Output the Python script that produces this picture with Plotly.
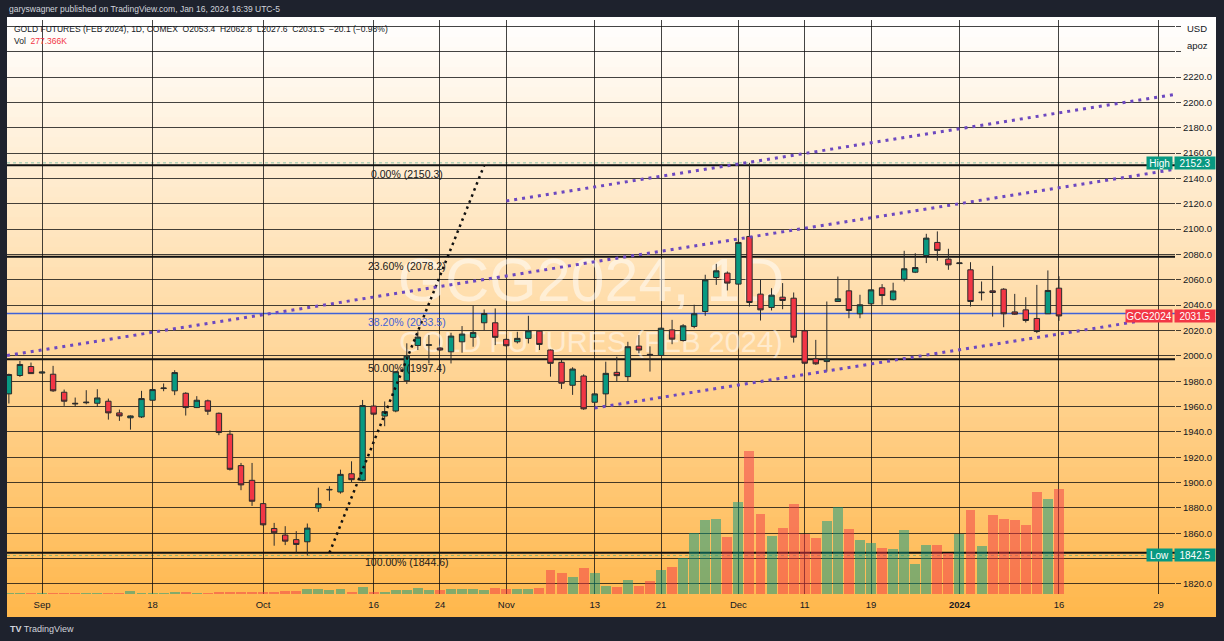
import numpy as np
import plotly.graph_objects as go

# ---------------- data ----------------
dates = [
    "2023-08-29", "2023-08-30", "2023-08-31", "2023-09-01",
    "2023-09-05", "2023-09-06", "2023-09-07", "2023-09-08",
    "2023-09-11", "2023-09-12", "2023-09-13", "2023-09-14", "2023-09-15",
    "2023-09-18", "2023-09-19", "2023-09-20", "2023-09-21", "2023-09-22",
    "2023-09-25", "2023-09-26", "2023-09-27", "2023-09-28", "2023-09-29",
    "2023-10-02", "2023-10-03", "2023-10-04", "2023-10-05", "2023-10-06",
    "2023-10-09", "2023-10-10", "2023-10-11", "2023-10-12", "2023-10-13",
    "2023-10-16", "2023-10-17", "2023-10-18", "2023-10-19", "2023-10-20",
    "2023-10-23", "2023-10-24", "2023-10-25", "2023-10-26", "2023-10-27",
    "2023-10-30", "2023-10-31", "2023-11-01", "2023-11-02", "2023-11-03",
    "2023-11-06", "2023-11-07", "2023-11-08", "2023-11-09", "2023-11-10",
    "2023-11-13", "2023-11-14", "2023-11-15", "2023-11-16", "2023-11-17",
    "2023-11-20", "2023-11-21", "2023-11-22", "2023-11-24",
    "2023-11-27", "2023-11-28", "2023-11-29", "2023-11-30", "2023-12-01",
    "2023-12-04", "2023-12-05", "2023-12-06", "2023-12-07", "2023-12-08",
    "2023-12-11", "2023-12-12", "2023-12-13", "2023-12-14", "2023-12-15",
    "2023-12-18", "2023-12-19", "2023-12-20", "2023-12-21", "2023-12-22",
    "2023-12-26", "2023-12-27", "2023-12-28", "2023-12-29",
    "2024-01-02", "2024-01-03", "2024-01-04", "2024-01-05",
    "2024-01-08", "2024-01-09", "2024-01-10", "2024-01-11", "2024-01-12",
    "2024-01-16",
]

opens = [1970.0, 1984.5, 1991.6, 1986.4, 1985.5, 1971.3, 1962.6, 1963.0, 1962.6, 1964.2,
         1955.0, 1951.1, 1951.8, 1965.0, 1974.2, 1972.4, 1970.5, 1959.2, 1964.5, 1954.7,
         1938.2, 1913.4, 1901.8, 1883.4, 1863.8, 1858.6, 1855.0, 1853.3, 1880.0, 1894.2,
         1892.6, 1907.0, 1901.8, 1960.4, 1952.5, 1956.5, 1980.4, 2008.2, 2008.3, 2006.2,
         2003.2, 2011.1, 2014.6, 2026.1, 2026.1, 2013.0, 2011.1, 2013.8, 2019.5, 2004.6,
         1994.9, 1976.8, 1984.1, 1963.4, 1970.0, 1987.0, 1983.6, 2007.7, 2001.2, 2000.3,
         2020.5, 2012.1, 2023.2, 2035.0, 2061.8, 2065.3, 2056.6, 2094.2, 2048.7, 2038.2,
         2046.3, 2045.5, 2019.7, 1997.6, 1995.5, 2042.9, 2051.3, 2033.2, 2041.1, 2053.7,
         2044.3, 2060.5, 2066.0, 2079.2, 2089.5, 2076.3, 2072.8, 2067.9, 2049.8, 2051.3,
         2052.6, 2034.7, 2036.3, 2029.5, 2033.2, 2053.4]

highs = [1986.0, 1996.0, 1994.7, 1987.6, 1992.1, 1973.4, 1967.1, 1972.9, 1973.7, 1966.3,
         1957.6, 1953.0, 1972.4, 1974.2, 1978.2, 1988.7, 1971.3, 1968.2, 1965.5, 1955.3,
         1941.3, 1915.5, 1915.5, 1883.9, 1868.2, 1865.6, 1861.7, 1867.7, 1896.0, 1897.1,
         1910.2, 1916.8, 1965.2, 1961.5, 1964.0, 1988.0, 2009.9, 2019.3, 2016.5, 2006.8,
         2018.2, 2023.5, 2039.5, 2036.6, 2037.4, 2013.8, 2019.0, 2031.6, 2019.8, 2005.0,
         1996.7, 1991.0, 1985.4, 1970.5, 1995.4, 1999.3, 2011.1, 2016.4, 2007.5, 2022.3,
         2028.4, 2025.0, 2040.3, 2064.0, 2072.6, 2066.6, 2092.1, 2152.3, 2060.0, 2053.4,
         2057.4, 2050.0, 2020.5, 2012.6, 2042.9, 2062.6, 2060.0, 2048.2, 2052.1, 2056.6,
         2057.7, 2082.9, 2081.0, 2096.3, 2098.2, 2084.5, 2073.9, 2073.9, 2058.7, 2071.0,
         2053.4, 2048.9, 2046.3, 2056.0, 2067.4, 2062.8]

lows = [1962.4, 1983.4, 1985.8, 1986.0, 1971.6, 1960.5, 1960.0, 1961.8, 1959.7, 1949.7,
        1948.7, 1941.8, 1951.0, 1964.5, 1972.1, 1969.0, 1952.9, 1958.8, 1953.4, 1937.4,
        1909.5, 1894.0, 1881.6, 1866.0, 1850.2, 1850.7, 1844.7, 1842.5, 1876.9, 1885.6,
        1891.3, 1900.5, 1901.0, 1953.0, 1944.5, 1955.5, 1977.8, 2004.6, 1994.0, 2004.0,
        1994.0, 2002.5, 2007.2, 2020.3, 2008.5, 2007.2, 2009.8, 2009.8, 2004.6, 1983.6,
        1973.9, 1969.2, 1957.4, 1960.0, 1960.0, 1979.7, 1979.7, 2002.0, 1987.6, 2000.0,
        2009.2, 2011.3, 2021.8, 2031.6, 2056.0, 2051.6, 2056.0, 2038.9, 2027.9, 2035.8,
        2036.8, 2010.5, 1993.4, 1992.9, 1987.6, 2042.9, 2029.7, 2029.7, 2040.3, 2040.3,
        2043.7, 2058.7, 2065.3, 2073.2, 2075.0, 2067.9, 2072.4, 2038.9, 2043.7, 2031.0,
        2022.6, 2032.4, 2026.3, 2017.9, 2033.2, 2027.6]

closes = [1985.3, 1993.2, 1986.0, 1987.2, 1972.4, 1964.2, 1962.2, 1963.4, 1966.8, 1955.0,
          1952.6, 1952.6, 1966.3, 1973.4, 1974.6, 1986.8, 1959.2, 1965.0, 1956.3, 1939.5,
          1910.5, 1898.2, 1885.3, 1866.7, 1860.4, 1853.8, 1851.2, 1864.1, 1883.4, 1894.6,
          1906.5, 1902.3, 1960.8, 1954.0, 1956.0, 1987.5, 2000.0, 2014.8, 2008.7, 2004.6,
          2015.6, 2017.2, 2018.5, 2033.4, 2014.6, 2008.0, 2013.8, 2019.8, 2009.0, 1994.1,
          1978.4, 1989.6, 1958.2, 1970.0, 1986.2, 1984.4, 2007.2, 2004.6, 2000.8, 2021.8,
          2013.2, 2023.7, 2033.2, 2060.0, 2067.1, 2057.4, 2089.5, 2042.1, 2036.3, 2047.9,
          2043.7, 2014.7, 1994.2, 1993.7, 1997.4, 2045.0, 2035.8, 2040.3, 2052.1, 2047.6,
          2051.2, 2068.7, 2069.7, 2092.9, 2083.2, 2071.8, 2073.3, 2042.9, 2050.2, 2050.0,
          2033.2, 2032.9, 2027.9, 2019.2, 2051.6, 2031.5]

volumes_k = [3.0, 2.5, 2.0, 1.5, 2.5, 2.0, 1.5, 2.0, 2.0, 3.0,
             2.5, 7.0, 3.0, 2.5, 2.0, 6.0, 6.0, 2.5, 3.5, 4.0,
             5.0, 5.5, 6.0, 6.0, 6.5, 7.0, 7.5, 12.5, 12.0, 11.5,
             12.5, 6.0, 18.5, 5.0, 4.0, 11.5, 11.5, 16.5, 10.5, 10.5,
             13.0, 13.0, 13.0, 9.5, 16.5, 12.0, 14.0, 14.0, 16.5, 63.4,
             54.6, 45.8, 67.8, 54.6, 21.1, 19.4, 37.0, 21.1, 35.2, 63.4,
             72.2, 94.2, 162.0, 195.5, 198.1, 151.4, 242.1, 378.6, 210.4, 153.2,
             174.3, 237.7, 157.6, 148.8, 192.8, 230.7, 171.7, 142.6, 133.8, 122.4,
             119.7, 169.9, 79.2, 128.6, 128.6, 107.4, 157.6, 221.9, 126.8, 208.7,
             199.0, 195.5, 183.1, 270.3, 250.9, 277.366]

tick_dates = ["2023-09-01", "2023-09-18", "2023-10-02", "2023-10-16", "2023-10-24",
              "2023-11-01", "2023-11-13", "2023-11-21", "2023-12-01", "2023-12-11",
              "2023-12-19", "2024-01-02", "2024-01-16", "2024-01-29"]
tick_labels = ["Sep", "18", "Oct", "16", "24", "Nov", "13", "21", "Dec", "11",
               "19", "<b>2024</b>", "16", "29"]

price_ticks = list(range(1800, 2261, 20))
hidden_price_labels = [1840, 2240, 2260]

# Fibonacci retracement drawing
fib_anchor_dates = ["2023-10-10", "2023-10-30"]
fib_anchor_prices = [1844.6, 2150.3]
fib_pcts = [0.0, 23.6, 38.2, 50.0, 100.0]
fib_levels = [2150.3, 2078.2, 2033.5, 1997.4, 1844.6]

# parallel channel drawing (anchor date/price pairs)
channel_start_dates = ["2023-11-13", "2023-08-29", "2023-11-01"]
channel_start_prices = [1958.9, 2000.5, 2122.2]
channel_end_dates = ["2024-01-25", "2024-01-16", "2024-01-16"]
channel_end_prices = [2027.0, 2132.6, 2191.7]
channel_extend_left = [False, True, False]
channel_extend_right = [False, True, True]

symbol = "GCG2024"
title_text = "GOLD FUTURES (FEB 2024), 1D, COMEX"
session_high = 2152.3
session_low = 1842.5

# ---------------- helpers ----------------
W, H = 1224, 641
ML, MR, MT, MB = 7, 49, 20, 47
PW, PH = W - ML - MR, H - MT - MB


def px2x(px):
    return (px - ML) / PW


def px2y(py):
    return (H - MB - py) / PH


last_date = dates[-1]


def bar_index(d):
    if d in dates:
        return dates.index(d)
    return len(dates) - 1 + int(np.busday_count(last_date, d))


x = list(range(len(dates)))
X_RANGE = [-0.17, 105.5]
Y_RANGE = [1812.1, 2265.0]
VOL_RANGE = [0, 1516300]

UP, DOWN = "#089981", "#f23645"
GRID = "rgba(15,15,15,0.78)"
FONT = "Liberation Sans, Arial, sans-serif"
TXT = "#131722"

fig = go.Figure()

# volume (bottom layer, axis y)
vol_colors = ["rgba(8,153,129,0.5)" if c >= o else "rgba(242,54,69,0.5)"
              for o, c in zip(opens, closes)]
fig.add_trace(go.Bar(x=x, y=[v * 1000 for v in volumes_k], marker_color=vol_colors,
                     marker_line_width=0, width=0.9, xaxis="x", yaxis="y",
                     hoverinfo="skip"))

# watermark (axis y2, between volume and price)
xc = (X_RANGE[0] + X_RANGE[1]) / 2
fig.add_trace(go.Scatter(x=[xc], y=[px2y(286)], mode="text", text=[f"{symbol}, 1D"],
                         textfont=dict(size=61, color="rgba(255,255,255,0.5)", family=FONT),
                         xaxis="x", yaxis="y2", hoverinfo="skip"))
fig.add_trace(go.Scatter(x=[xc], y=[px2y(345)], mode="text", text=["GOLD FUTURES (FEB 2024)"],
                         textfont=dict(size=29, color="rgba(255,255,255,0.5)", family=FONT),
                         xaxis="x", yaxis="y2", hoverinfo="skip"))

# candles (axis y3)
fig.add_trace(go.Candlestick(
    x=x, open=opens, high=highs, low=lows, close=closes,
    increasing=dict(line=dict(color="#2b2b2b", width=1), fillcolor=UP),
    decreasing=dict(line=dict(color="#2b2b2b", width=1), fillcolor=DOWN),
    xaxis="x", yaxis="y3", hoverinfo="skip"))

# fib trend line (black dotted)
fx = [bar_index(d) for d in fib_anchor_dates]
fig.add_trace(go.Scatter(x=fx, y=fib_anchor_prices, mode="lines",
                         line=dict(color="#111111", width=2.5, dash="2.5px,4px"),
                         xaxis="x", yaxis="y3", hoverinfo="skip"))

# channel lines (purple dotted)
for sd, sp, ed, ep, el, er in zip(channel_start_dates, channel_start_prices,
                                  channel_end_dates, channel_end_prices,
                                  channel_extend_left, channel_extend_right):
    i0, i1 = bar_index(sd), bar_index(ed)
    slope = (ep - sp) / (i1 - i0)
    xa = X_RANGE[0] if el else i0
    xb = X_RANGE[1] if er else i1
    fig.add_trace(go.Scatter(x=[xa, xb], y=[sp + slope * (xa - i0), sp + slope * (xb - i0)],
                             mode="lines",
                             line=dict(color="#6c48c0", width=3, dash="3px,5px"),
                             xaxis="x", yaxis="y3", hoverinfo="skip"))

# ---------------- shapes ----------------
shapes = []
top_py, bot_py, nb = 17, 617, 60
for i in range(nb):
    a = top_py + i * (bot_py - top_py) / nb
    b = top_py + (i + 1) * (bot_py - top_py) / nb + 0.8
    t = (i + 0.5) / nb
    g = round(255 - (255 - 183) * t)
    bl = round(255 - (255 - 76) * t)
    shapes.append(dict(type="rect", xref="paper", yref="paper",
                       x0=px2x(7), x1=px2x(1216), y0=px2y(min(b, bot_py)), y1=px2y(a),
                       fillcolor=f"rgb(255,{g},{bl})", line_width=0, layer="below"))

for p, lv in zip(fib_pcts, fib_levels):
    blue = abs(p - 38.2) < 1e-6
    shapes.append(dict(type="line", xref="paper", yref="y3", x0=0, x1=1, y0=lv, y1=lv,
                       line=dict(color="#3f62d8" if blue else "#111111",
                                 width=1.5 if blue else 2), layer="below"))

for lv in (session_high, session_low):
    shapes.append(dict(type="line", xref="paper", yref="y3", x0=0, x1=1, y0=lv, y1=lv,
                       line=dict(color="rgba(8,153,129,0.45)", width=1, dash="dot"),
                       layer="below"))

# ---------------- annotations ----------------
ann = []
ann.append(dict(xref="paper", yref="paper", x=px2x(7), y=px2y(9), xanchor="left",
                yanchor="middle", showarrow=False,
                text="garyswagner published on TradingView.com, Jan 16, 2024 16:39 UTC-5",
                font=dict(size=8.5, color="#d1d4dc", family=FONT)))

chg = closes[-1] - closes[-2]
pct = chg / closes[-2] * 100
hdr = (f"{title_text}  O{opens[-1]:.1f}  H{highs[-1]:.1f}  L{lows[-1]:.1f}  "
       f"C{closes[-1]:.1f}  {chg:+.1f} ({pct:+.2f}%)").replace("-", "−")
ann.append(dict(xref="paper", yref="paper", x=px2x(12), y=px2y(29), xanchor="left",
                yanchor="middle", showarrow=False, text=hdr,
                font=dict(size=8.5, color=TXT, family=FONT)))
ann.append(dict(xref="paper", yref="paper", x=px2x(12), y=px2y(41), xanchor="left",
                yanchor="middle", showarrow=False,
                text=f"Vol  <span style='color:{DOWN}'>{volumes_k[-1]:.3f}K</span>",
                font=dict(size=8.5, color=TXT, family=FONT)))

ann.append(dict(xref="paper", yref="paper", x=px2x(1185), y=px2y(29), xanchor="left",
                yanchor="middle", showarrow=False, text="USD",
                font=dict(size=9.5, color=TXT, family=FONT)))
ann.append(dict(xref="paper", yref="paper", x=px2x(1185), y=px2y(46), xanchor="left",
                yanchor="middle", showarrow=False, text="apoz",
                font=dict(size=9.5, color=TXT, family=FONT)))

fib_mid = (fx[0] + fx[1]) / 2
for p, lv in zip(fib_pcts, fib_levels):
    blue = abs(p - 38.2) < 1e-6
    ann.append(dict(xref="x", yref="y3", x=fib_mid, y=lv, xanchor="center", yanchor="top",
                    yshift=-1, showarrow=False, text=f"{p:.2f}% ({lv:.1f})",
                    font=dict(size=10.5, color="#3f62d8" if blue else "#1a1a1a", family=FONT)))


def price_box(label, value, color, lab_w):
    out = []
    out.append(dict(xref="paper", yref="y3", x=px2x(1174), y=value, xanchor="left",
                    yanchor="middle", showarrow=False, text=f"{value:.1f}", width=40,
                    height=12, bgcolor=color, borderpad=0,
                    font=dict(size=10, color="white", family=FONT)))
    out.append(dict(xref="paper", yref="y3", x=px2x(1173), y=value, xanchor="right",
                    yanchor="middle", showarrow=False, text=label, width=lab_w,
                    height=12, bgcolor=color, borderpad=0,
                    font=dict(size=10, color="white", family=FONT)))
    return out


ann += price_box("High", session_high, UP, 25)
ann += price_box(symbol, closes[-1], DOWN, 46)
ann += price_box("Low", session_low, UP, 25)

ann.append(dict(xref="paper", yref="paper", x=px2x(8), y=px2y(629), xanchor="left",
                yanchor="middle", showarrow=False,
                text="<b>TV</b> TradingView",
                font=dict(size=9, color="#d1d4dc", family=FONT)))

# ---------------- layout ----------------
tick_idx = [bar_index(d) for d in tick_dates]
fig.update_layout(
    width=W, height=H, margin=dict(l=ML, r=MR, t=MT, b=MB),
    paper_bgcolor="#1e222d", plot_bgcolor="rgba(0,0,0,0)",
    showlegend=False, hovermode=False, bargap=0,
    shapes=shapes, annotations=ann,
    xaxis=dict(range=X_RANGE, tickvals=tick_idx, ticktext=tick_labels, showgrid=True,
               gridcolor=GRID, gridwidth=1, zeroline=False, showline=False,
               ticks="outside", ticklen=2, tickcolor="rgba(0,0,0,0)",
               tickfont=dict(size=9.5, color=TXT, family=FONT),
               rangeslider=dict(visible=False), fixedrange=True),
    yaxis=dict(range=VOL_RANGE, visible=False, fixedrange=True),
    yaxis2=dict(range=[0, 1], visible=False, overlaying="y", fixedrange=True),
    yaxis3=dict(range=Y_RANGE, overlaying="y", side="right", anchor="x",
                tickvals=price_ticks,
                ticktext=["" if v in hidden_price_labels else f"{v:.1f}" for v in price_ticks],
                showgrid=True, gridcolor=GRID, gridwidth=1, zeroline=False,
                showline=False, ticks="outside", ticklen=5, tickcolor=GRID,
                tickfont=dict(size=9.5, color=TXT, family=FONT), fixedrange=True),
)

fig.write_html("out.html")
